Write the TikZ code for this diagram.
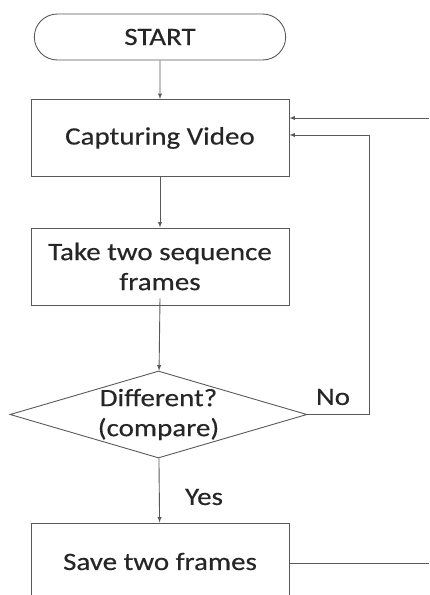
\documentclass[tikz,border=0pt]{standalone}
\usepackage{fontspec}
\setmainfont{Carlito}[FakeStretch=1.16,FakeBold=0.4]
\usepackage{tikz}
\tikzset{every node/.append style={font=\fontsize{25}{30}\selectfont, text=black!85}}
\usetikzlibrary{arrows,positioning,shapes,shapes.misc,shapes.geometric}
\tikzset{startbox/.style={draw=black!65, line width=0.9pt, rounded rectangle, minimum width=258pt, minimum height=46pt},
         procbox/.style={draw=black!65, line width=0.9pt, rectangle, align=center, minimum width=258pt, minimum height=77pt},
         decbox/.style={draw=black!65, line width=0.9pt, diamond, aspect=3.4, inner sep=0pt, align=center, minimum width=297pt, minimum height=87pt},
         flow/.style={draw=black!65, line width=0.9pt, ->, >=latex},
         plain/.style={draw=black!65, line width=0.9pt}}

\begin{document}
\begin{tikzpicture}[x=1pt,y=-1pt]
              \useasboundingbox (0,0) rectangle (429,595);
              \node[startbox] at (160,37) (start) {START};
              \node[procbox] at (160,138) (capture) {Capturing Video};
              \node[procbox] at (160,266.5) (take) {Take two sequence\\frames};
              \node[decbox] at (158.5,414.5) (diff) {Different?\\(compare)};
              \node[procbox] at (160,561.5) (save) {Save two frames};
              \node at (333,397) (no) {No};
              \node at (204,497) (yes) {Yes};

              \coordinate (noturn) at (369,414.5);
              \coordinate (noup) at (369,135);
              \coordinate (backin) at (429,118);
              \coordinate (saveout) at (429,563);

              \draw[flow] (start)--(capture);
              \draw[flow] (capture)--(take);
              \draw[flow] ([yshift=7pt]take.south)--(diff);
              \draw[flow] (diff)--(save);
              \draw[flow] (diff.east)--(noturn)--(noup)--(capture.east |- noup);
              \draw[flow] (backin)--(capture.east |- backin);
              \draw[plain] (save.east |- saveout)--(saveout);
            \end{tikzpicture}
\end{document}
